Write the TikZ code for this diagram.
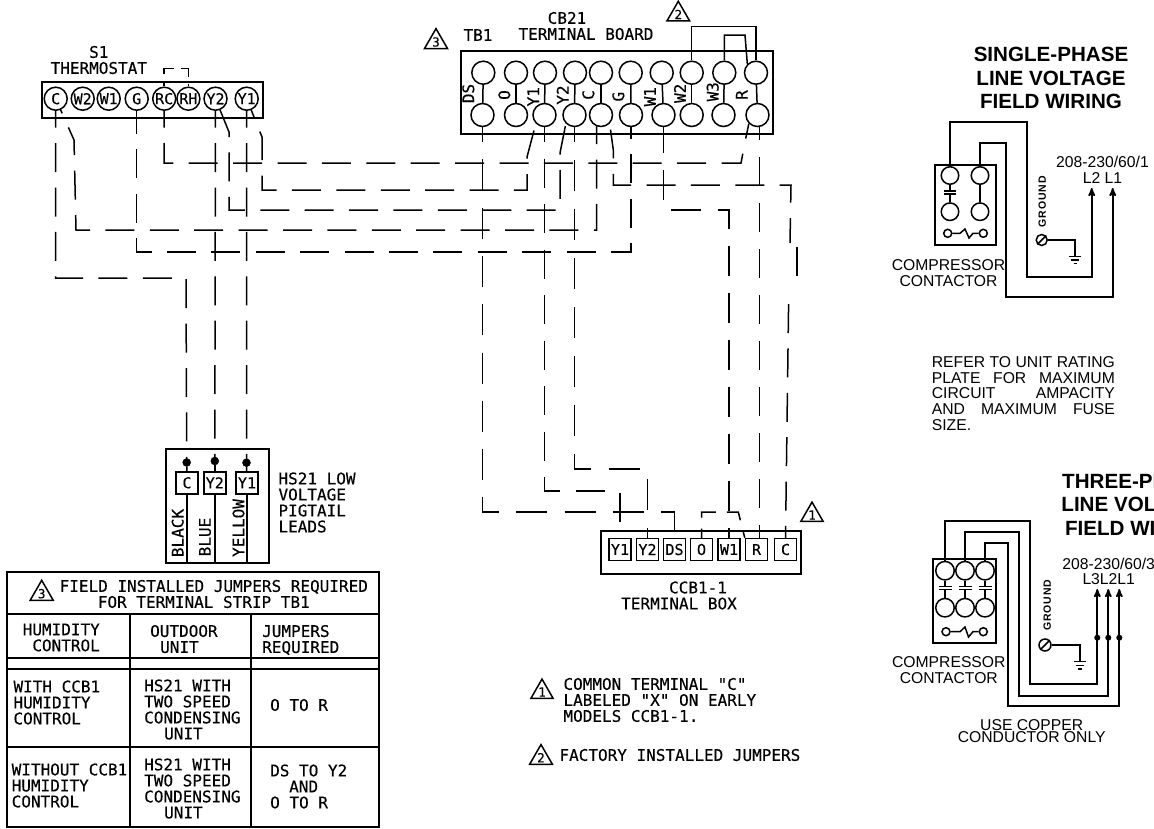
\documentclass[tikz,border=0pt]{standalone}
\usepackage{fontspec}
\usepackage{tikz}
\usetikzlibrary{arrows}
\usetikzlibrary{backgrounds}
\usetikzlibrary{shapes.geometric}
\newfontfamily\cadfont[FakeBold=0.3]{DejaVu Sans Mono}
\newfontfamily\linefont{Liberation Sans}
\newfontfamily\gndfont[LetterSpace=8]{Liberation Sans}
\tikzset{
  cadtext/.style={font=\cadfont\fontsize{16}{16}\selectfont,inner sep=0pt,align=left},
  linetext/.style={font=\linefont\fontsize{15.7}{15.7}\selectfont,inner sep=0pt,align=center},
  titletext/.style={font=\linefont\bfseries\fontsize{20.6}{23.6}\selectfont,inner sep=0pt,align=center},
  gndtext/.style={font=\gndfont\bfseries\fontsize{10.5}{10.5}\selectfont,inner sep=0pt,rotate=90},
  boxline/.style={draw,line width=1.7pt},
  thinline/.style={draw,line width=1.5pt},
  wire/.style={draw,line width=1.5pt,dash pattern=on 29pt off 15.4pt},
  roundterm/.style={draw,circle,line width=1.5pt,fill=white,inner sep=0pt,minimum size=23pt,font=\cadfont\fontsize{15}{15}\selectfont},
  squareterm/.style={draw,rectangle,line width=1.5pt,fill=white,inner sep=0pt,minimum size=22pt,font=\cadfont\fontsize{15}{15}\selectfont},
  contact/.style={draw,circle,line width=1.5pt,fill=white,inner sep=0pt,minimum size=17.5pt},
  coilend/.style={draw,circle,line width=1.5pt,fill=white,inner sep=0pt,minimum size=8pt},
  leaddot/.style={draw,circle,fill=black,inner sep=0pt,minimum size=8pt},
  busdot/.style={draw,circle,fill=black,inner sep=0pt,minimum size=5.5pt},
  notemark/.style={draw,regular polygon,regular polygon sides=3,line width=1.5pt,inner sep=0pt,minimum size=25.5pt,font=\cadfont\fontsize{12.5}{12.5}\selectfont},
  screw/.style={draw,circle,line width=1.5pt,inner sep=0pt,minimum size=11pt}
}

\begin{document}
\begin{tikzpicture}[x=1pt,y=-1pt]

  \useasboundingbox (0,0) rectangle (1154,828);
  \clip (0,0) rectangle (1154,828);

  \node [cadtext,align=center] (thname) at (98.8,60) {S1\\THERMOSTAT};
  \path [boxline] (41.7,81.7) rectangle (262.7,118.3);
  \node [roundterm] (th_C)  at (55.7,98.7)  {C};
  \node [roundterm] (th_W2) at (82.7,98.7)  {W2};
  \node [roundterm] (th_W1) at (108.7,98.7) {W1};
  \node [roundterm] (th_G)  at (136.7,98.7) {G};
  \node [roundterm] (th_RC) at (164.2,98.7) {RC};
  \node [roundterm] (th_RH) at (188.4,98.7) {RH};
  \node [roundterm] (th_Y2) at (215.5,98.7) {Y2};
  \node [roundterm] (th_Y1) at (246.7,98.7) {Y1};

  \node [cadtext] (tbname) at (478,35) {TB1};
  \node [cadtext,align=center] (cbname) at (586,26) {\hspace*{-38pt}CB21\\TERMINAL BOARD};
  \path [boxline] (460.7,51) rectangle (772.7,134);

  \node [roundterm] (tb_DS_top) at (483.3,72.7) {};
  \node [roundterm] (tb_O_top)  at (516,72.7)   {};
  \node [roundterm] (tb_Y1_top) at (545,72.7)   {};
  \node [roundterm] (tb_Y2_top) at (575,72.7)   {};
  \node [roundterm] (tb_C_top)  at (601,72.7)   {};
  \node [roundterm] (tb_G_top)  at (630.7,72.7) {};
  \node [roundterm] (tb_W1_top) at (661.7,72.7) {};
  \node [roundterm] (tb_W2_top) at (691.7,72.7) {};
  \node [roundterm] (tb_W3_top) at (724.3,72.7) {};
  \node [roundterm] (tb_R_top)  at (756,72.7)   {};

  \node [roundterm] (tb_DS) at (482.5,115) {};
  \node [roundterm] (tb_O)  at (516,115)   {};
  \node [roundterm] (tb_Y1) at (544.5,115) {};
  \node [roundterm] (tb_Y2) at (574.5,115) {};
  \node [roundterm] (tb_C)  at (601,115)   {};
  \node [roundterm] (tb_G)  at (631,115)   {};
  \node [roundterm] (tb_W1) at (663.5,115) {};
  \node [roundterm] (tb_W2) at (691.7,115) {};
  \node [roundterm] (tb_W3) at (723.5,115) {};
  \node [roundterm] (tb_R)  at (757.5,115) {};

  \path [thinline]
    (tb_DS_top) edge (tb_DS)
    (tb_O_top)  edge (tb_O)
    (tb_Y1_top) edge (tb_Y1)
    (tb_Y2_top) edge (tb_Y2)
    (tb_C_top)  edge (tb_C)
    (tb_G_top)  edge (tb_G)
    (tb_W1_top) edge (tb_W1)
    (tb_W2_top) edge (tb_W2)
    (tb_W3_top) edge (tb_W3)
    (tb_R_top)  edge (tb_R);

  \node [cadtext,rotate=90] (tbl_DS) at (468.3,93.5) {DS};
  \node [cadtext,rotate=90] (tbl_O)  at (504.3,95)   {O};
  \node [cadtext,rotate=90] (tbl_Y1) at (533.3,96.7) {Y1};
  \node [cadtext,rotate=90] (tbl_Y2) at (562.7,95)   {Y2};
  \node [cadtext,rotate=90] (tbl_C)  at (588.3,95)   {C};
  \node [cadtext,rotate=90] (tbl_G)  at (618.3,96.7) {G};
  \node [cadtext,rotate=90] (tbl_W1) at (650,96.7)   {W1};
  \node [cadtext,rotate=90] (tbl_W2) at (680,93.3)   {W2};
  \node [cadtext,rotate=90] (tbl_W3) at (712.7,91.7) {W3};
  \node [cadtext,rotate=90] (tbl_R)  at (741.7,95)   {R};

  \path [thinline] (tb_W2_top.north) |- (756,26.7) -- (tb_R_top.north);
  \path [thinline] (tb_W3_top.north) |- (745,35) -- (tb_R_top.north west);

  \node [notemark] (mark_top3) at (436,42)     {3};
  \node [notemark] (mark_top2) at (678.3,14.4) {2};

  \path [boxline] (600.7,530.7) rectangle (801,574.3);
  \node [squareterm] (cc_Y1) at (620,549.5)   {Y1};
  \node [squareterm] (cc_Y2) at (647.5,549.5) {Y2};
  \node [squareterm] (cc_DS) at (674.5,549.5) {DS};
  \node [squareterm] (cc_O)  at (701.5,549.5) {O};
  \node [squareterm] (cc_W1) at (729,549.5)   {W1};
  \node [squareterm] (cc_R)  at (756.5,549.5) {R};
  \node [squareterm] (cc_C)  at (785.5,549.5) {C};
  \node [notemark] (mark_cc1) at (812,515) {1};
  \node [cadtext,align=center] (ccname) at (679,595.5) {\hspace*{38pt}CCB1-1\\TERMINAL BOX};

  \path [boxline] (166,449.3) rectangle (269,562.7);
  \node [squareterm] (hs_C)  at (187,482.8)   {C};
  \node [squareterm] (hs_Y2) at (214.8,482.8) {Y2};
  \node [squareterm] (hs_Y1) at (247,482.8)   {Y1};
  \node [leaddot] (hs_C_dot)  at (186.7,462.5) {};
  \node [leaddot] (hs_Y2_dot) at (214.8,461)   {};
  \node [leaddot] (hs_Y1_dot) at (246.5,462.7) {};
  \path [thinline]
    (hs_C_dot) edge (hs_C)
    (hs_Y2_dot) edge (hs_Y2)
    (hs_Y1_dot) edge (hs_Y1)
    (hs_C)  edge (hs_C |- 0,562.7)
    (hs_Y2) edge (hs_Y2 |- 0,562.7)
    (hs_Y1) edge (hs_Y1 |- 0,562.7);
  \node [cadtext,rotate=90] (hsl_black)  at (177.7,533) {BLACK};
  \node [cadtext,rotate=90] (hsl_blue)   at (205,537)   {BLUE};
  \node [cadtext,rotate=90] (hsl_yellow) at (238.5,528) {YELLOW};
  \node [cadtext,anchor=west] (hsname) at (278.3,502.5) {HS21 LOW\\VOLTAGE\\PIGTAIL\\LEADS};

  \begin{scope}[on background layer]
    \path [wire] (th_RC.center) |- (741,163) -- (746,137) -- (tb_R.south west);
    \path [wire,dash phase=9pt] (th_Y1.center) -- (262,137) |- (527,190) -- (527,157) -- (tb_Y1.south west);
    \path [wire,dash phase=32.4pt] (th_Y2.center) -- (229,132) |- (560,210) -- (560,153) -- (tb_Y2.south west);
    \path [wire,dash phase=13pt] (th_C.center) -- (74,140) -- (76,230) -| ([xshift=-4.3pt]tb_C.center);
    \path [wire,dash phase=38.4pt] (th_G.center) |- (631,252) -- (tb_G.center);
    \path [wire] (th_C.center) |- (186,278) -- (hs_C_dot.center);
    \path [wire] (th_Y2.center) -- (hs_Y2_dot.center);
    \path [wire] (th_Y1.center) -- (hs_Y1_dot.center);
    \path [wire,dash pattern=on 31pt off 17.3pt,dash phase=4pt] (tb_DS.center) |- (cc_DS.north |- 0,512) -- (cc_DS.north);
    \path [wire,dash pattern=on 29pt off 16.5pt,dash phase=2pt] (tb_Y1.center) |- (cc_Y1.north |- 0,491) -- (cc_Y1.north);
    \path [wire,dash pattern=on 31pt off 18pt,dash phase=4pt] (tb_Y2.center) |- (cc_Y2.north |- 0,469) -- (cc_Y2.north);
    \path [wire,dash pattern=on 30pt off 17pt,dash phase=39pt] (tb_W1.center) |- (cc_W1.north |- 0,210) -- (cc_W1.north);
    \path [wire,dash pattern=on 29pt off 17pt,dash phase=4pt] ([xshift=1.8pt]tb_R.center) -- ([xshift=2.8pt]cc_R.north);
    \path [wire,dash phase=38.4pt] (tb_C.south east) -- (613.3,150) |- (791,185) -- (790,243);
    \path [wire] (797,247) -- (797,276);
    \path [wire] (788.6,304) -- (cc_C.north);
    \path [wire,dash pattern=on 16pt off 7pt,dash phase=11pt] (th_RC.north) |- (188.4,68.3) -- (th_RH.north);
    \path [wire,dash pattern=on 20pt off 11pt,dash phase=13pt] (cc_R.north west) -- (738.3,512) -| (cc_O.north);
  \end{scope}

  \path [boxline] (6.7,571.7) rectangle (379.3,826.7);
  \path [boxline] (6.7,614.3) -- (379.3,614.3);
  \path [boxline] (6.7,658.3) -- (379.3,658.3);
  \path [boxline] (6.7,669.3) -- (379.3,669.3);
  \path [boxline] (6.7,747.3) -- (379.3,747.3);
  \path [boxline] (130,614.3) -- (130,826.7);
  \path [boxline] (250.7,614.3) -- (250.7,826.7);
  \node [notemark] (mark_tab3) at (41.7,593.7) {3};
  \node [cadtext,align=center] (tab_head) at (213.8,594) {FIELD INSTALLED JUMPERS REQUIRED\\\hspace*{-20pt}FOR TERMINAL STRIP TB1};
  \node [cadtext,align=right,anchor=east] (tab_hum) at (100,637.5) {HUMIDITY\\CONTROL};
  \node [cadtext,anchor=west] (tab_out) at (150,639) {OUTDOOR\\\hspace*{10pt}UNIT};
  \node [cadtext,anchor=west] (tab_jum) at (262,640) {JUMPERS\\REQUIRED};
  \node [cadtext,anchor=west] (tab_c1)  at (13.3,702.5) {WITH CCB1\\HUMIDITY\\CONTROL};
  \node [cadtext,anchor=west] (tab_o1)  at (144,709.5)  {HS21 WITH\\TWO SPEED\\CONDENSING\\\hspace*{20pt}UNIT};
  \node [cadtext,anchor=west] (tab_j1)  at (270,705)    {O TO R};
  \node [cadtext,anchor=west] (tab_c2)  at (11.5,785.5) {WITHOUT CCB1\\HUMIDITY\\CONTROL};
  \node [cadtext,anchor=west] (tab_o2)  at (144,788.5)  {HS21 WITH\\TWO SPEED\\CONDENSING\\\hspace*{20pt}UNIT};
  \node [cadtext,anchor=west] (tab_j2)  at (270,786.5)  {DS TO Y2\\\hspace*{19pt}AND\\O TO R};

  \node [notemark] (mark_note1) at (542,692)   {1};
  \node [notemark] (mark_note2) at (541,757.7) {2};
  \node [cadtext,anchor=west] (note1) at (563.3,700) {COMMON TERMINAL "C"\\LABELED "X" ON EARLY\\MODELS CCB1-1.};
  \node [cadtext,anchor=west] (note2) at (559.3,755) {FACTORY INSTALLED JUMPERS};

  \node [titletext] (single_title) at (1051,78.3) {SINGLE-PHASE\\LINE VOLTAGE\\FIELD WIRING};
  \path [boxline] (935,165) rectangle (996,245);
  \node [contact] (s_top_a) at (950,175.5)   {};
  \node [contact] (s_top_b) at (980,175.5)   {};
  \node [contact] (s_bot_a) at (950,211.7)   {};
  \node [contact] (s_bot_b) at (980,211.7)   {};
  \node [coilend] (s_coil_a) at (947.7,233.3) {};
  \node [coilend] (s_coil_b) at (983.3,233.3) {};
  \path [thinline] (s_top_a) -- (950,191) (944.3,191) -- (956,191) (944.3,194) -- (956,194) (950,194) -- (s_bot_a);
  \path [thinline] (s_top_b) -- (s_bot_b);
  \path [thinline] (s_coil_a) -- (960,233.3) -- (965,229) -- (969,238) -- (973,233.3) -- (s_coil_b);
  \coordinate (s_tip_L2) at (1091.7,188);
  \coordinate (s_tip_L1) at (1112.7,188);
  \path [boxline,->,>=stealth'] (s_top_a.north) |- (1027.3,122.3) |- (s_tip_L2 |- 0,276.7) -- (s_tip_L2);
  \path [boxline,->,>=stealth'] (s_top_b.north) |- (1006,143.3) |- (s_tip_L1 |- 0,296.7) -- (s_tip_L1);
  \node [linetext] (s_volt) at (1102.5,169.7) {208-230/60/1\\L2 L1};
  \node [gndtext] (s_gnd) at (1042.3,201.7) {GROUND};
  \node [screw] (s_screw) at (1041.7,240) {};
  \path [thinline] (s_screw.north east) -- (s_screw.south west);
  \coordinate (s_earth) at (1075,256.7);
  \path [thinline] (s_screw) -| (s_earth);
  \path [thinline] (1069,256.7) -- (1081,256.7) (1071,260.2) -- (1079,260.2) (1073.5,263.5) -- (1076.5,263.5);
  \node [linetext] (s_name) at (948.5,273) {COMPRESSOR\\CONTACTOR};

  \node [linetext,anchor=west] (rating) at (931.7,393.5) {\makebox[183pt][s]{REFER TO UNIT RATING}\\\makebox[183pt][s]{PLATE FOR MAXIMUM}\\\makebox[183pt][s]{CIRCUIT AMPACITY}\\\makebox[183pt][s]{AND MAXIMUM FUSE}\\\makebox[183pt][l]{SIZE.}};

  \node [titletext] (three_title) at (1136,504.5) {THREE-PHASE\\LINE VOLTAGE\\FIELD WIRING};
  \path [boxline] (932.7,559.3) rectangle (996,643.3);
  \node [contact,minimum size=18.5pt] (t_top_a) at (945,570.7) {};
  \node [contact,minimum size=18.5pt] (t_top_b) at (965,570.7) {};
  \node [contact,minimum size=18.5pt] (t_top_c) at (985,570.7) {};
  \node [contact,minimum size=18.5pt] (t_bot_a) at (945,607.7) {};
  \node [contact,minimum size=18.5pt] (t_bot_b) at (965,607.7) {};
  \node [contact,minimum size=18.5pt] (t_bot_c) at (985,607.7) {};
  \node [coilend] (t_coil_a) at (946,631.7)   {};
  \node [coilend] (t_coil_b) at (983.3,631.7) {};
  \path [thinline] (t_top_a) -- (945,586.7) (938.5,586.7) -- (951.5,586.7) (938.5,589.5) -- (951.5,589.5) (945,589.5) -- (t_bot_a);
  \path [thinline] (t_top_b) -- (965,586.7) (958.5,586.7) -- (971.5,586.7) (958.5,589.5) -- (971.5,589.5) (965,589.5) -- (t_bot_b);
  \path [thinline] (t_top_c) -- (985,586.7) (978.5,586.7) -- (991.5,586.7) (978.5,589.5) -- (991.5,589.5) (985,589.5) -- (t_bot_c);
  \path [thinline] (t_coil_a) -- (960,631.7) -- (965,627) -- (968.5,637) -- (973,631.7) -- (t_coil_b);
  \coordinate (t_tip_L3) at (1097.3,589);
  \coordinate (t_tip_L2) at (1108.3,589);
  \coordinate (t_tip_L1) at (1119.3,589);
  \path [boxline,->,>=stealth'] (t_top_a.north) |- (1030,521) |- (t_tip_L3 |- 0,684.3) -- (t_tip_L3);
  \path [boxline,->,>=stealth'] (t_top_b.north) |- (1019,531.7) |- (t_tip_L2 |- 0,695.7) -- (t_tip_L2);
  \path [boxline,->,>=stealth'] (t_top_c.north) |- (1007.7,543.3) |- (t_tip_L1 |- 0,706) -- (t_tip_L1);
  \node [busdot] (t_dot_L3) at (1097.3,637.7) {};
  \node [busdot] (t_dot_L2) at (1108.3,637.7) {};
  \node [busdot] (t_dot_L1) at (1119.3,637.7) {};
  \node [linetext] (t_volt) at (1108.7,571.5) {208-230/60/3\\L3L2L1};
  \node [gndtext] (t_gnd) at (1047.3,605) {GROUND};
  \node [screw,minimum size=12pt] (t_screw) at (1045,645) {};
  \path [thinline] (t_screw.north east) -- (t_screw.south west);
  \coordinate (t_earth) at (1080,661.7);
  \path [thinline] (t_screw) -| (t_earth);
  \path [thinline] (1074.3,661.7) -- (1086,661.7) (1076,665.5) -- (1084,665.5) (1078.3,669) -- (1081.7,669);
  \node [linetext] (t_name) at (948.8,670) {COMPRESSOR\\CONTACTOR};
  \node [linetext,font=\linefont\fontsize{15.7}{12.3}\selectfont] (t_copper) at (1031.7,731) {USE COPPER\\CONDUCTOR ONLY};

\end{tikzpicture}
\end{document}
